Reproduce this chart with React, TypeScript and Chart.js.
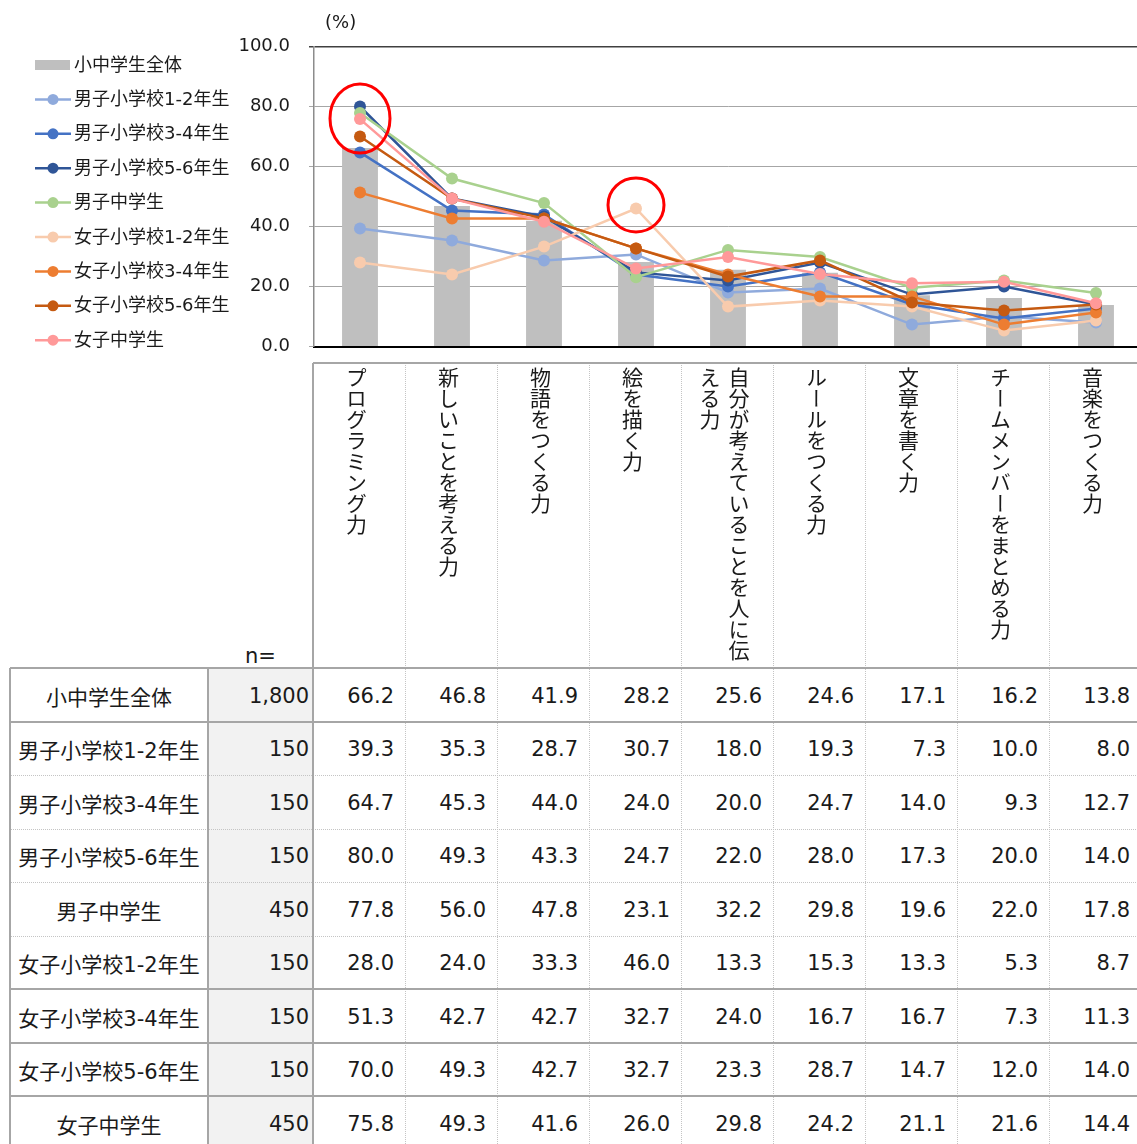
import React, { useEffect, useRef } from "react";
import { Chart, registerables } from "chart.js";

Chart.register(...registerables);

// ---------------- data ----------------
const categories = [
  "プログラミング力",
  "新しいことを考える力",
  "物語をつくる力",
  "絵を描く力",
  "自分が考えていることを人に伝える力",
  "ルールをつくる力",
  "文章を書く力",
  "チームメンバーをまとめる力",
  "音楽をつくる力",
];

const groups = [
  "小中学生全体",
  "男子小学校1-2年生",
  "男子小学校3-4年生",
  "男子小学校5-6年生",
  "男子中学生",
  "女子小学校1-2年生",
  "女子小学校3-4年生",
  "女子小学校5-6年生",
  "女子中学生",
];

const sampleSizes = [1800, 150, 150, 150, 450, 150, 150, 150, 450];

const allStudents = [66.2, 46.8, 41.9, 28.2, 25.6, 24.6, 17.1, 16.2, 13.8];
const boysElem12 = [39.3, 35.3, 28.7, 30.7, 18.0, 19.3, 7.3, 10.0, 8.0];
const boysElem34 = [64.7, 45.3, 44.0, 24.0, 20.0, 24.7, 14.0, 9.3, 12.7];
const boysElem56 = [80.0, 49.3, 43.3, 24.7, 22.0, 28.0, 17.3, 20.0, 14.0];
const boysJunior = [77.8, 56.0, 47.8, 23.1, 32.2, 29.8, 19.6, 22.0, 17.8];
const girlsElem12 = [28.0, 24.0, 33.3, 46.0, 13.3, 15.3, 13.3, 5.3, 8.7];
const girlsElem34 = [51.3, 42.7, 42.7, 32.7, 24.0, 16.7, 16.7, 7.3, 11.3];
const girlsElem56 = [70.0, 49.3, 42.7, 32.7, 23.3, 28.7, 14.7, 12.0, 14.0];
const girlsJunior = [75.8, 49.3, 41.6, 26.0, 29.8, 24.2, 21.1, 21.6, 14.4];

const seriesValues = [
  allStudents,
  boysElem12,
  boysElem34,
  boysElem56,
  boysJunior,
  girlsElem12,
  girlsElem34,
  girlsElem56,
  girlsJunior,
];

const seriesColors = [
  "#bfbfbf",
  "#8faadc",
  "#4472c4",
  "#2f5597",
  "#a9d18e",
  "#f8cbad",
  "#ed7d31",
  "#c55a11",
  "#ff9999",
];

const yMin = 0;
const yMax = 100;
const yStep = 20;

// red highlight circles (category index, value at centre)
const highlightCategory = [0, 3];
const highlightValue = [76, 47.2];
const highlightRadiusX = [30, 28];
const highlightRadiusY = [34.5, 27];

// ---------------- styles ----------------
const LATIN_FONT = '"DejaVu Sans", "Noto Sans CJK JP", sans-serif';
const CJK_FONT = '"Noto Sans CJK JP", "DejaVu Sans", sans-serif';
const TEXT = "#1a1a1a";
const SOLID = "#a6a6a6";
const DOTTED = "#c4c4c4";
const CANVAS_W = 1160;
const CANVAS_H = 380;

const overlayPlugin = {
  id: "overlay",
  afterDatasetsDraw(chart: any) {
    const ctx = chart.ctx;
    const xs = chart.scales.x;
    const ys = chart.scales.y;
    ctx.save();
    ctx.strokeStyle = "#ff0000";
    ctx.lineWidth = 3;
    highlightCategory.forEach((c, i) => {
      const cx = xs.getPixelForValue(c);
      const cy = ys.getPixelForValue(highlightValue[i]);
      ctx.beginPath();
      ctx.ellipse(cx, cy, highlightRadiusX[i], highlightRadiusY[i], 0, 0, Math.PI * 2);
      ctx.stroke();
    });
    ctx.restore();
  },
  afterDraw(chart: any) {
    const ctx = chart.ctx;
    ctx.save();
    ctx.font = `18px ${LATIN_FONT}`;
    ctx.textBaseline = "middle";
    ctx.textAlign = "left";
    ctx.fillStyle = TEXT;
    ctx.fillText("(%)", 325, 23);
    groups.forEach((g, i) => {
      const y = 65 + i * 34.4;
      const col = seriesColors[i];
      if (i === 0) {
        ctx.fillStyle = col;
        ctx.fillRect(35, y - 5, 35, 10);
      } else {
        ctx.strokeStyle = col;
        ctx.lineWidth = 2.5;
        ctx.beginPath();
        ctx.moveTo(35, y);
        ctx.lineTo(71, y);
        ctx.stroke();
        ctx.fillStyle = col;
        ctx.beginPath();
        ctx.arc(53, y, 5.5, 0, Math.PI * 2);
        ctx.fill();
      }
      ctx.fillStyle = TEXT;
      ctx.fillText(g, 74, y + 1);
    });
    ctx.restore();
  },
};

function ChartCanvas() {
  const ref = useRef<HTMLCanvasElement | null>(null);
  useEffect(() => {
    if (!ref.current) return;
    const datasets: any[] = seriesValues.map((vals, i) => {
      if (i === 0) {
        return {
          type: "bar",
          label: groups[i],
          data: vals,
          backgroundColor: seriesColors[i],
          borderWidth: 0,
          barPercentage: 0.39,
          categoryPercentage: 1,
          order: 100,
        };
      }
      return {
        type: "line",
        label: groups[i],
        data: vals,
        borderColor: seriesColors[i],
        backgroundColor: seriesColors[i],
        pointBackgroundColor: seriesColors[i],
        pointBorderColor: seriesColors[i],
        borderWidth: 2.5,
        pointRadius: 6,
        pointBorderWidth: 0,
        tension: 0,
        fill: false,
        order: 20 - i,
      };
    });
    const chart = new Chart(ref.current, {
      type: "bar",
      data: { labels: categories, datasets },
      options: {
        animation: false,
        responsive: false,
        maintainAspectRatio: false,
        events: [],
        layout: { padding: { left: 0, top: 46.5, right: 18, bottom: CANVAS_H - 346.5 } },
        plugins: {
          legend: { display: false },
          tooltip: { enabled: false },
          title: { display: false },
        },
        scales: {
          x: {
            offset: true,
            ticks: { display: false },
            grid: { display: false },
            border: { display: true, color: "#000000", width: 2 },
            afterFit: (s: any) => {
              s.height = 0;
            },
          },
          y: {
            min: yMin,
            max: yMax,
            ticks: {
              stepSize: yStep,
              padding: 19,
              color: TEXT,
              font: { family: LATIN_FONT, size: 18 },
              callback: (v: any) => Number(v).toFixed(1),
            },
            grid: {
              color: (c: any) => (c.tick && c.tick.value === yMax ? "#404040" : SOLID),
              lineWidth: (c: any) => (c.tick && c.tick.value === yMax ? 1.5 : 1),
              tickLength: 5,
              drawTicks: true,
            },
            border: { display: true, color: "#8c8c8c", width: 1.5 },
            afterFit: (s: any) => {
              s.width = 314;
            },
          },
        },
      },
      plugins: [overlayPlugin],
    } as any);
    return () => chart.destroy();
  }, []);
  return (
    <canvas
      ref={ref}
      width={CANVAS_W}
      height={CANVAS_H}
      style={{ position: "absolute", left: 0, top: 0, width: CANVAS_W, height: CANVAS_H, display: "block" }}
    />
  );
}

const LABEL_LEFT = 10;
const N_LEFT = 208;
const DATA_LEFT = 313;
const COL_W = 92;
const HEAD_TOP = 363;
const BODY_TOP = 668;
const ROW_H = 53.5;
const BOTTOM = 1160;
const RIGHT = 1160;
const solidRowAfter = [true, false, false, false, false, true, true, true];

function DataTable() {
  const items: React.ReactNode[] = [];
  items.push(
    <div
      key="nbg"
      style={{ position: "absolute", left: N_LEFT, top: BODY_TOP, width: DATA_LEFT - N_LEFT, height: BOTTOM - BODY_TOP, background: "#f2f2f2" }}
    />
  );
  categories.forEach((c, j) => {
    items.push(
      <div
        key={"h" + j}
        style={{
          position: "absolute",
          left: DATA_LEFT + COL_W * j,
          top: HEAD_TOP,
          width: COL_W,
          height: BODY_TOP - HEAD_TOP,
          display: "flex",
          justifyContent: "center",
          paddingTop: 4,
          paddingRight: 6,
          boxSizing: "border-box",
        }}
      >
        <div
          style={{
            writingMode: "vertical-rl",
            height: 298,
            fontSize: 21,
            lineHeight: "29px",
            fontFamily: CJK_FONT,
            color: TEXT,
          }}
        >
          {c}
        </div>
      </div>
    );
  });
  items.push(
    <div
      key="n="
      style={{ position: "absolute", left: N_LEFT, top: 641, width: DATA_LEFT - N_LEFT, height: 30, textAlign: "center", fontSize: 21, lineHeight: "30px", color: TEXT }}
    >
      n=
    </div>
  );
  groups.forEach((g, i) => {
    const top = BODY_TOP + ROW_H * i;
    const cellBase: React.CSSProperties = {
      position: "absolute",
      top,
      height: ROW_H,
      display: "flex",
      alignItems: "center",
      fontSize: 21,
      color: TEXT,
      boxSizing: "border-box",
      whiteSpace: "nowrap",
      paddingTop: 2,
    };
    items.push(
      <div key={"l" + i} style={{ ...cellBase, left: LABEL_LEFT, width: N_LEFT - LABEL_LEFT, justifyContent: "center" }}>
        {g}
      </div>
    );
    items.push(
      <div key={"n" + i} style={{ ...cellBase, left: N_LEFT, width: DATA_LEFT - N_LEFT, justifyContent: "flex-end", paddingRight: 4 }}>
        {sampleSizes[i].toLocaleString("en-US")}
      </div>
    );
    seriesValues[i].forEach((v, j) => {
      items.push(
        <div
          key={"d" + i + "_" + j}
          style={{ ...cellBase, left: DATA_LEFT + COL_W * j, width: COL_W, justifyContent: "flex-end", paddingRight: 11 }}
        >
          {v.toFixed(1)}
        </div>
      );
    });
  });
  const hLine = (key: string, x1: number, x2: number, y: number, solid: boolean) =>
    solid ? (
      <div key={key} style={{ position: "absolute", left: x1, top: y - 1, width: x2 - x1, height: 2, background: SOLID }} />
    ) : (
      <div key={key} style={{ position: "absolute", left: x1, top: y, width: x2 - x1, height: 0, borderTop: `1px dotted ${DOTTED}` }} />
    );
  const vLine = (key: string, x: number, y1: number, y2: number, solid: boolean) =>
    solid ? (
      <div key={key} style={{ position: "absolute", left: x - 1, top: y1, width: 2, height: y2 - y1, background: SOLID }} />
    ) : (
      <div key={key} style={{ position: "absolute", left: x, top: y1, width: 0, height: y2 - y1, borderLeft: `1px dotted ${DOTTED}` }} />
    );
  categories.forEach((_, j) => {
    if (j > 0) items.push(vLine("hv" + j, DATA_LEFT + COL_W * j, HEAD_TOP, BODY_TOP, false));
  });
  items.push(hLine("ht", DATA_LEFT, RIGHT, HEAD_TOP, true));
  items.push(vLine("hl", DATA_LEFT, HEAD_TOP, BODY_TOP, true));
  categories.forEach((_, j) => {
    if (j > 0) items.push(vLine("bv" + j, DATA_LEFT + COL_W * j, BODY_TOP, BOTTOM, false));
  });
  solidRowAfter.forEach((s, k) => {
    items.push(hLine("rh" + k, LABEL_LEFT, RIGHT, BODY_TOP + ROW_H * (k + 1), s));
  });
  items.push(hLine("bt", LABEL_LEFT, RIGHT, BODY_TOP, true));
  items.push(vLine("bl", LABEL_LEFT, BODY_TOP, BOTTOM, true));
  items.push(vLine("bn", N_LEFT, BODY_TOP, BOTTOM, true));
  items.push(vLine("bd", DATA_LEFT, BODY_TOP, BOTTOM, true));
  return <>{items}</>;
}

export default function App() {
  return (
    <div
      style={{
        position: "absolute",
        left: 0,
        top: 0,
        width: 1137,
        height: 1144,
        overflow: "hidden",
        background: "#ffffff",
        fontFamily: LATIN_FONT,
      }}
    >
      <ChartCanvas />
      <DataTable />
    </div>
  );
}
